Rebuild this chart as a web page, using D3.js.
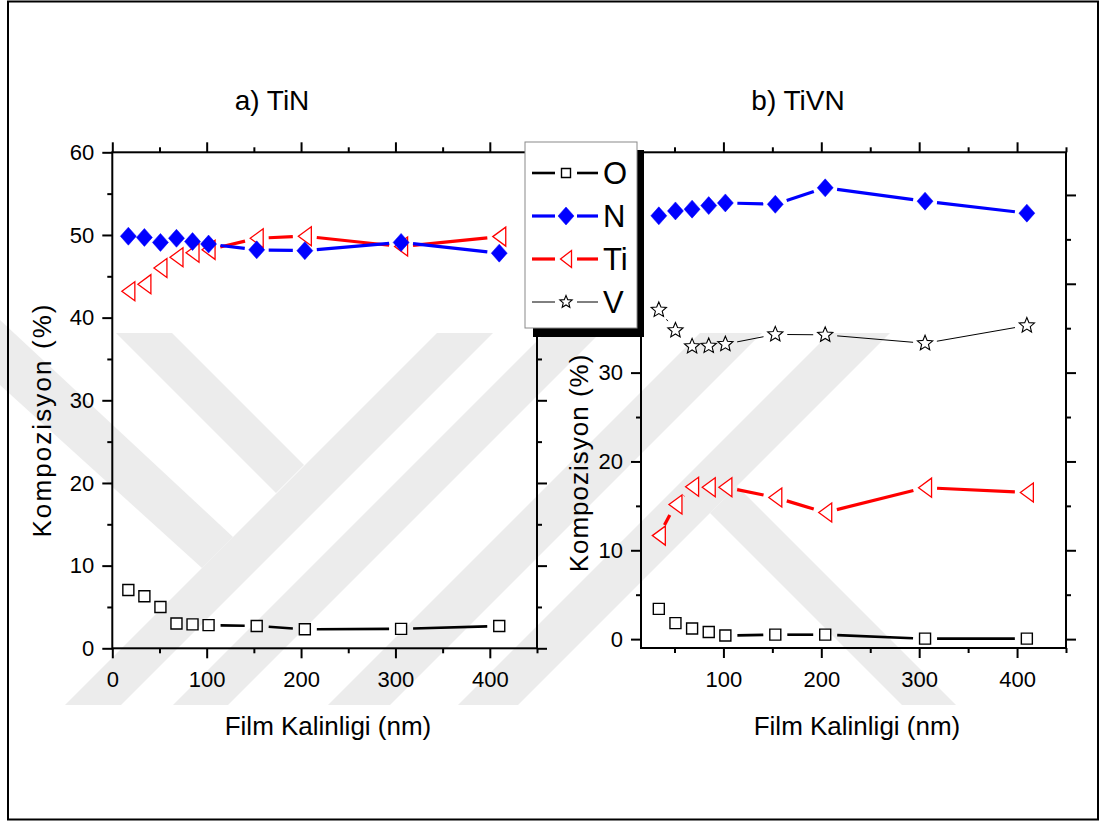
<!DOCTYPE html>
<html>
<head>
<meta charset="utf-8">
<script src="https://cdn.jsdelivr.net/npm/d3@7"></script>
<style>
  body { margin: 0; background: #fff; }
  svg { display: block; }
  text { font-family: "Liberation Sans", Arial, Helvetica, sans-serif; fill: #000; }
</style>
</head>
<body>
<svg id="chart" width="1105" height="823"></svg>
<script>
// Film thickness (nm)
const thicknessTiN  = [17, 34, 51, 68, 85, 102, 153, 204, 306, 410];
const thicknessTiVN = [34, 51, 68, 85, 102, 153, 204, 306, 410];

// a) TiN composition (%)
const tinO  = [7.05, 6.3, 5.0, 3.0, 2.9, 2.8, 2.7, 2.3, 2.35, 2.7];
const tinN  = [49.85, 49.7, 49.1, 49.6, 49.2, 48.9, 48.2, 48.1, 49.1, 47.8];
const tinTi = [43.2, 44.05, 46.0, 47.3, 47.85, 48.2, 49.6, 49.85, 48.6, 49.8];

// b) TiVN composition (%)
const tivnO  = [3.4, 1.8, 1.2, 0.8, 0.4, 0.5, 0.5, 0.05, 0.05];
const tivnN  = [47.65, 48.2, 48.4, 48.8, 49.1, 48.95, 50.8, 49.3, 47.95];
const tivnTi = [11.65, 15.15, 17.15, 17.1, 17.1, 15.95, 14.25, 17.05, 16.5];
const tivnV  = [37.05, 34.75, 32.95, 33.0, 33.2, 34.3, 34.25, 33.3, 35.3];

// Axis ticks and labels
const xMajorTicks = [0, 100, 200, 300, 400];
const xMinorTicks = [50, 150, 250, 350, 450];
const yMajorTicksTiN  = [0, 10, 20, 30, 40, 50, 60];
const yMinorTicksTiN  = [5, 15, 25, 35, 45, 55];
const yMajorTicksTiVN = [0, 10, 20, 30, 40, 50];
const yLabelledTicksTiVN = [0, 10, 20, 30];
const yMinorTicksTiVN = [5, 15, 25, 35, 45];
const panelTitles = ["a) TiN", "b) TiVN"];
const xAxisTitle = "Film Kalinligi (nm)";
const yAxisTitle = "Kompozisyon (%)";
const legendLabels = ["O", "N", "Ti", "V"];

const svg = d3.select("#chart");

// ---------- marker shapes ----------
const shapes = {
  square: s => `M${-s/2},${-s/2}h${s}v${s}h${-s}Z`,
  diamond: (w, h) => `M0,${-h/2}L${w/2},0L0,${h/2}L${-w/2},0Z`,
  leftTri: (w, h) => `M${-w/2},0L${w/2},${-h/2}L${w/2},${h/2}Z`,
  star: (R) => {
    const r = R * 0.45, pts = [];
    for (let i = 0; i < 10; i++) {
      const a = -Math.PI / 2 + i * Math.PI / 5, rr = i % 2 ? r : R;
      pts.push([rr * Math.cos(a), rr * Math.sin(a)]);
    }
    return "M" + pts.map(p => p.map(v => v.toFixed(2)).join(",")).join("L") + "Z";
  }
};

const styles = {
  O:  { line: "#000", width: 2.6, marker: () => shapes.square(11), fill: "#fff", stroke: "#000", sw: 1.4,
        legend: () => shapes.square(9) },
  N:  { line: "#0000ff", width: 3.2, marker: () => shapes.diamond(16, 18), fill: "#0000ff", stroke: "#0000ff", sw: 0.5,
        legend: () => shapes.diamond(16, 18) },
  Ti: { line: "#ff0000", width: 3.2, marker: () => shapes.leftTri(13, 19), fill: "#fff", stroke: "#ff0000", sw: 1.3,
        legend: () => shapes.leftTri(11, 17) },
  V:  { line: "#000", width: 1, marker: () => shapes.star(8), fill: "#fff", stroke: "#000", sw: 1.1,
        legend: () => shapes.star(6.5) }
};

// ---------- background watermark bands ----------
const wm = svg.append("g").attr("fill", "#ececec");
const bands = [
  [[116,333],[172,333],[304,465],[276,493]],   // inner left arm
  [[0,320],[0,385],[202,568],[233,537]],       // outer left arm
  [[437,333],[493,333],[121,705],[65,705]],    // stem
  [[545,333],[600,333],[228,705],[173,705]],
  [[700,333],[762,333],[390,705],[328,705]],
  [[830,333],[890,333],[518,705],[458,705]],
  [[710,513],[737,486],[956,705],[902,705]]
];
bands.forEach(p => wm.append("path").attr("d", "M" + p.join("L") + "Z"));

// ---------- outer frame ----------
svg.append("rect").attr("x", 8).attr("y", 1.5).attr("width", 1090).attr("height", 818)
  .attr("fill", "none").attr("stroke", "#000").attr("stroke-width", 2);

// line with gaps around each marker
function gappedSegments(pts, gap) {
  const segs = [];
  for (let i = 0; i < pts.length - 1; i++) {
    const [x1, y1] = pts[i], [x2, y2] = pts[i + 1];
    const dx = x2 - x1, dy = y2 - y1, d = Math.hypot(dx, dy);
    if (d <= 2 * gap) continue;
    const ux = dx / d, uy = dy / d;
    segs.push([[x1 + ux * gap, y1 + uy * gap], [x2 - ux * gap, y2 - uy * gap]]);
  }
  return segs;
}

function styleAxis(sel, fontSize) {
  sel.select(".domain").remove();
  sel.selectAll(".tick line").attr("stroke", "#000").attr("stroke-width", 2);
  sel.selectAll(".tick text").attr("font-size", fontSize).attr("font-family", null).attr("fill", "#000");
}

function drawPanel(cfg) {
  const { x, y } = cfg;
  const g = svg.append("g");
  const [xl, xr] = x.range(), [yb, yt] = y.range();

  // bottom axis with labels
  g.append("g").attr("transform", `translate(0,${yb})`)
    .call(d3.axisBottom(x).tickValues(cfg.xMajor).tickSize(10).tickPadding(13).tickFormat(d3.format("d")))
    .call(s => styleAxis(s, 22));
  g.append("g").attr("transform", `translate(0,${yb})`)
    .call(d3.axisBottom(x).tickValues(cfg.xMinor).tickSize(5).tickFormat(""))
    .call(s => styleAxis(s, 0));
  // top axis
  g.append("g").attr("transform", `translate(0,${yt})`)
    .call(d3.axisTop(x).tickValues(cfg.xMajor).tickSize(10).tickFormat(""))
    .call(s => styleAxis(s, 0));
  g.append("g").attr("transform", `translate(0,${yt})`)
    .call(d3.axisTop(x).tickValues(cfg.xMinor).tickSize(5).tickFormat(""))
    .call(s => styleAxis(s, 0));
  // left axis: labelled major ticks, unlabelled major ticks, minor ticks
  g.append("g").attr("transform", `translate(${xl},0)`)
    .call(d3.axisLeft(y).tickValues(cfg.yLabelled).tickSize(10).tickPadding(8).tickFormat(d3.format("d")))
    .call(s => styleAxis(s, 22));
  g.append("g").attr("transform", `translate(${xl},0)`)
    .call(d3.axisLeft(y).tickValues(cfg.yMajor.filter(t => !cfg.yLabelled.includes(t))).tickSize(10).tickFormat(""))
    .call(s => styleAxis(s, 0));
  g.append("g").attr("transform", `translate(${xl},0)`)
    .call(d3.axisLeft(y).tickValues(cfg.yMinor).tickSize(5).tickFormat(""))
    .call(s => styleAxis(s, 0));
  // right axis
  g.append("g").attr("transform", `translate(${xr},0)`)
    .call(d3.axisRight(y).tickValues(cfg.yMajor).tickSize(10).tickFormat(""))
    .call(s => styleAxis(s, 0));
  g.append("g").attr("transform", `translate(${xr},0)`)
    .call(d3.axisRight(y).tickValues(cfg.yMinor).tickSize(5).tickFormat(""))
    .call(s => styleAxis(s, 0));

  // plot frame
  g.append("rect").attr("x", xl).attr("y", yt).attr("width", xr - xl).attr("height", yb - yt)
    .attr("fill", "none").attr("stroke", "#000").attr("stroke-width", 2);

  // series
  cfg.series.forEach(s => {
    const st = styles[s.key];
    const pts = cfg.thickness.map((t, i) => [x(t), y(s.values[i])]);
    const lg = g.append("g");
    gappedSegments(pts, 12).forEach(seg => {
      lg.append("line")
        .attr("x1", seg[0][0]).attr("y1", seg[0][1]).attr("x2", seg[1][0]).attr("y2", seg[1][1])
        .attr("stroke", st.line).attr("stroke-width", st.width);
    });
    g.append("g").selectAll("path").data(pts).join("path")
      .attr("transform", d => `translate(${d[0]},${d[1]})`)
      .attr("d", st.marker())
      .attr("fill", st.fill).attr("stroke", st.stroke).attr("stroke-width", st.sw);
  });

  // titles
  g.append("text").attr("x", cfg.titleX).attr("y", 110).attr("text-anchor", "middle")
    .attr("font-size", 28).text(cfg.title);
  g.append("text").attr("x", cfg.xTitleX).attr("y", 735).attr("text-anchor", "middle")
    .attr("font-size", 26).text(xAxisTitle);
  g.append("text").attr("transform", `translate(${cfg.yTitleX},${cfg.yTitleY}) rotate(-90)`)
    .attr("text-anchor", "middle").attr("font-size", 26)
    .attr("letter-spacing", cfg.yTitleSpacing).text(yAxisTitle);
}

// a) TiN
drawPanel({
  x: d3.scaleLinear().domain([0, 450]).range([112.3, 537]),
  y: d3.scaleLinear().domain([0, 60]).range([648.3, 152.3]),
  xMajor: xMajorTicks, xMinor: xMinorTicks,
  yMajor: yMajorTicksTiN, yLabelled: yMajorTicksTiN, yMinor: yMinorTicksTiN,
  thickness: thicknessTiN,
  series: [
    { key: "O", values: tinO },
    { key: "Ti", values: tinTi },
    { key: "N", values: tinN }
  ],
  title: panelTitles[0], titleX: 272,
  xTitleX: 328,
  yTitleX: 51, yTitleY: 420, yTitleSpacing: 2.1
});

// b) TiVN
drawPanel({
  x: d3.scaleLinear().domain([15.8, 450]).range([641, 1066]),
  y: d3.scaleLinear().domain([-1, 54.8]).range([648, 152.3]),
  xMajor: xMajorTicks.filter(t => t >= 100), xMinor: xMinorTicks,
  yMajor: yMajorTicksTiVN, yLabelled: yLabelledTicksTiVN, yMinor: yMinorTicksTiVN,
  thickness: thicknessTiVN,
  series: [
    { key: "O", values: tivnO },
    { key: "Ti", values: tivnTi },
    { key: "V", values: tivnV },
    { key: "N", values: tivnN }
  ],
  title: panelTitles[1], titleX: 798,
  xTitleX: 857,
  yTitleX: 588, yTitleY: 463, yTitleSpacing: 1
});

// ---------- legend ----------
const leg = svg.append("g");
leg.append("rect").attr("x", 533).attr("y", 150).attr("width", 111).attr("height", 187).attr("fill", "#000");
leg.append("rect").attr("x", 525).attr("y", 142).attr("width", 112).attr("height", 186)
  .attr("fill", "#fff").attr("stroke", "#8a8a8a").attr("stroke-width", 1);
const rowY = d3.scalePoint().domain(legendLabels).range([173, 302]);
legendLabels.forEach(k => {
  const st = styles[k], cy = rowY(k);
  [[532, 555], [577, 598]].forEach(([a, b]) => {
    leg.append("line").attr("x1", a).attr("x2", b).attr("y1", cy).attr("y2", cy)
      .attr("stroke", st.line).attr("stroke-width", st.width);
  });
  leg.append("path").attr("transform", `translate(566,${cy})`).attr("d", st.legend())
    .attr("fill", st.fill).attr("stroke", st.stroke).attr("stroke-width", st.sw);
  leg.append("text").attr("x", 603).attr("y", cy + 11).attr("font-size", 31).text(k);
});
</script>
</body>
</html>
